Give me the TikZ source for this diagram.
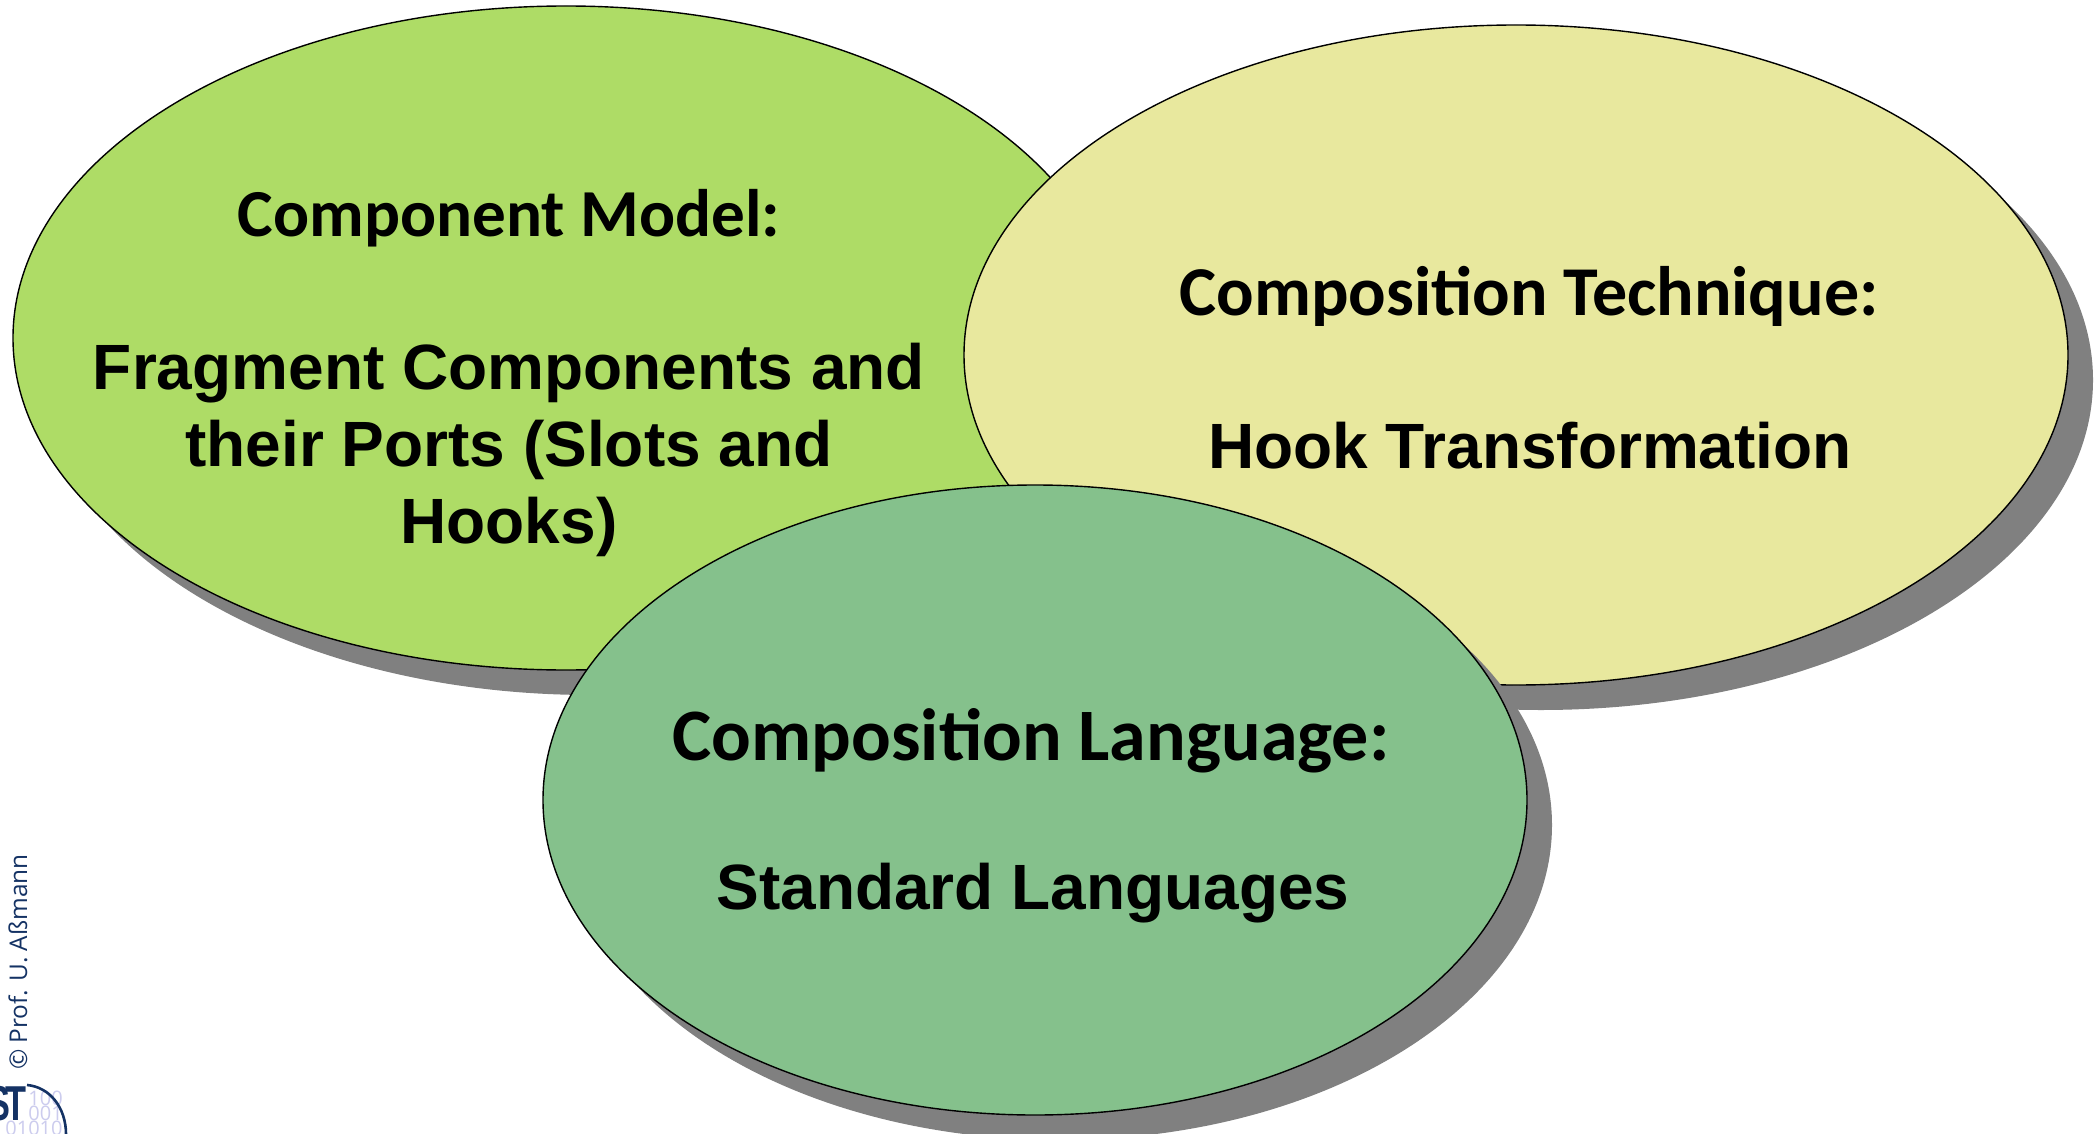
\documentclass[tikz,border=0pt]{standalone}
\usepackage{fontspec}
\setmainfont{Liberation Sans}
\newfontfamily\handfont{Carlito}
\newfontfamily\notefont{Open Sans}
\usetikzlibrary{positioning,shapes.geometric,shadows}

\definecolor{modelgreen}{RGB}{174,220,102}
\definecolor{techyellow}{RGB}{232,232,158}
\definecolor{langgreen}{RGB}{133,193,140}
\definecolor{shadowgray}{RGB}{128,128,128}
\definecolor{logoblue}{RGB}{20,50,100}
\definecolor{logopale}{RGB}{204,204,238}

\tikzset{
    area/.style={ellipse, draw=black, line width=0.7pt, inner sep=0pt,
        drop shadow={shadow xshift=12.5pt, shadow yshift=-12.5pt, fill=shadowgray, opacity=1}},
    title/.style={font=\handfont\bfseries\fontsize{#1}{#1}\selectfont, inner sep=0pt},
    body/.style={font=\bfseries\fontsize{32}{38.5}\selectfont, align=center, inner sep=0pt},
    digits/.style={font=\notefont\fontsize{10}{10}\selectfont, text=logopale, inner sep=0pt}
}

\begin{document}
\begin{tikzpicture}[x=0.5pt, y=-0.5pt]
    \clip (0,0) rectangle (2098,1134);
    \fill[white] (0,0) rectangle (2098,1134);

    \node (model) [area, fill=modelgreen, minimum width=553pt, minimum height=332pt] at (566,338) {};
    \node (technique) [area, fill=techyellow, minimum width=552pt, minimum height=330pt] at (1516,355) {};
    \node (language) [area, fill=langgreen, minimum width=492pt, minimum height=315pt] at (1035,800) {};

    \node (model title) [title=33.6] at (509,218) {Component Model:};
    \node (model body) [body, anchor=north] at (509,343) {Fragment Components and\\their Ports (Slots and\\Hooks)};

    \node (technique title) [title=35] at (1529,296) {Composition Technique:};
    \node (technique body) [body] at (1530,446) {Hook Transformation};

    \node (language title) [title=37] at (1031,741) {Composition Language:};
    \node (language body) [body] at (1033,893) {Standard Languages};

    \node (copyright) [font=\notefont\fontsize{12.2}{12.2}\selectfont, text=logoblue, rotate=90, inner sep=0pt] at (18,962) {© Prof. U. Aßmann};

    \node (digits a) [digits, anchor=west] at (28,1098) {100};
    \node (digits b) [digits, anchor=west] at (28,1113) {001};
    \node (digits c) [digits, anchor=west] at (5,1128) {01010};
    \node (logo) [font=\bfseries\fontsize{24.5}{24.5}\selectfont, text=logoblue, anchor=north east, inner sep=0pt] at (27,1086) {\scalebox{0.7}[1]{S\kern-0.15em T}};
    \draw[logoblue, line width=1.3pt] (27,1085) .. controls (50,1087) and (66,1108) .. (66,1134);
\end{tikzpicture}
\end{document}
